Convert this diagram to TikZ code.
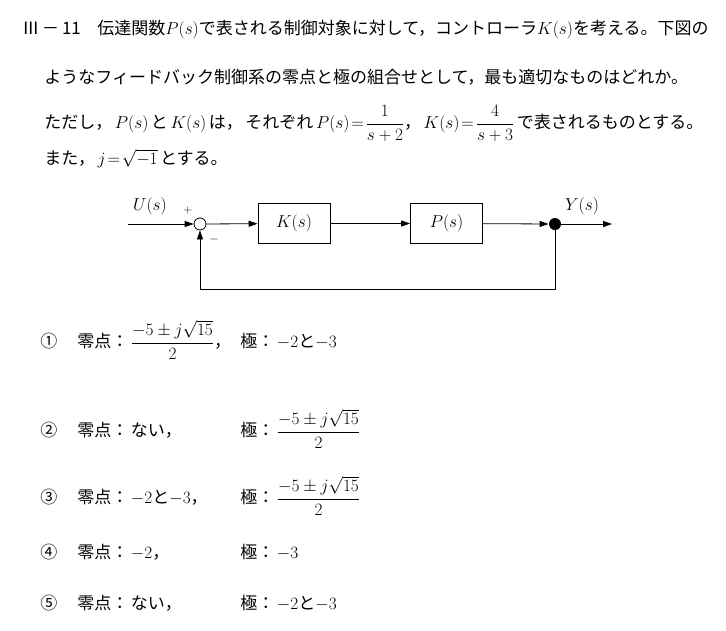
\documentclass[tikz,border=0pt]{standalone}
\usepackage[no-math]{fontspec}
\setmainfont{Noto Sans CJK JP}
\usepackage{amsmath}
\usetikzlibrary{arrows.meta}
\DeclareMathSizes{17}{16}{11.5}{9}
\newcommand{\jg}{\hspace{0.15em}}
\tikzset{
  txt/.style={anchor=base west,inner sep=0pt,font=\fontsize{17}{20}\selectfont},
  lbl/.style={inner sep=0pt,font=\fontsize{16}{18}\selectfont},
  blk/.style={draw,minimum width=72pt,minimum height=40pt,font=\fontsize{16}{18}\selectfont},
  sumpt/.style={circle,draw,minimum size=12pt,inner sep=0pt},
  brpt/.style={circle,fill,minimum size=12pt,inner sep=0pt},
  sig/.style={-{Triangle[length=9pt,width=6pt]}}
}
\begin{document}
\begin{tikzpicture}[x=1pt,y=-1pt,line width=0.8pt]
  \useasboundingbox (0,0) rectangle (726,630);

  % question text
  \begin{scope}[every node/.style={txt}]
    \node (no) at (22,34.5) {Ⅲ\,－\,11};
    \node (l1) at (97,34.5) {伝達関数$P(s)$で表される制御対象に対して，コントローラ$K(s)$を考える。下図の};
    \node (l2) at (44,83.5) {ようなフィードバック制御系の零点と極の組合せとして，最も適切なものはどれか。};
    \node (l3) at (44,128.5) {ただし，\jg{}$P(s)$\jg{}と\jg{}$K(s)$\jg{}は，\jg{}それぞれ\jg{}$P(s)\!=\!\dfrac{1}{s+2}$，\jg{}$K(s)\!=\!\dfrac{4}{s+3}$\jg{}で表されるものとする。};
    \node (l4) at (44,164.5) {また，\jg{}$j\!=\!\sqrt{-1}$\jg{}とする。};
  \end{scope}

  % block diagram
  \node[sumpt] (sum) at (200,224) {};
  \node[blk] (K) at (294,223.5) {$K(s)$};
  \node[blk] (P) at (446.5,223.5) {$P(s)$};
  \node[brpt] (br) at (555,224) {};
  \coordinate (in) at (128,224);
  \coordinate (out) at (612,224);
  \coordinate (fbr) at (555,289);
  \coordinate (fbl) at (200,289);

  \draw[sig] (in) -- (sum);
  \draw[sig] (sum) -- (K);
  \draw[sig] (K) -- (P);
  \draw[sig] (P) -- (br);
  \draw[sig] (br) -- (out);
  \draw[sig] (br) -- (fbr) -- (fbl) -- (sum);

  \node[lbl] (u) at (150,206) {$U(s)$};
  \node[lbl] (y) at (582,206) {$Y(s)$};
  \node[inner sep=0pt,font=\fontsize{13}{14}\selectfont] (pl) at (188,210) {$+$};
  \node[inner sep=0pt,font=\fontsize{13}{14}\selectfont] (mi) at (214,239) {$-$};

  % choices
  \begin{scope}[every node/.style={txt}]
    \node (c1) at (40,347.5) {①};
    \node (z1) at (77,347.5) {零点：\jg{}$\dfrac{-5\pm j\sqrt{15}}{2}$，};
    \node (p1) at (240,347.5) {極：\jg{}$-2$と$-3$};
    \node (c2) at (40,436.5) {②};
    \node (z2) at (77,436.5) {零点：\jg{}ない，};
    \node (p2) at (240,436.5) {極：\jg{}$\dfrac{-5\pm j\sqrt{15}}{2}$};
    \node (c3) at (40,503.5) {③};
    \node (z3) at (77,503.5) {零点：\jg{}$-2$と$-3$，};
    \node (p3) at (240,503.5) {極：\jg{}$\dfrac{-5\pm j\sqrt{15}}{2}$};
    \node (c4) at (40,558.5) {④};
    \node (z4) at (77,558.5) {零点：\jg{}$-2$，};
    \node (p4) at (240,558.5) {極：\jg{}$-3$};
    \node (c5) at (40,609.5) {⑤};
    \node (z5) at (77,609.5) {零点：\jg{}ない，};
    \node (p5) at (240,609.5) {極：\jg{}$-2$と$-3$};
  \end{scope}

\end{tikzpicture}
\end{document}
